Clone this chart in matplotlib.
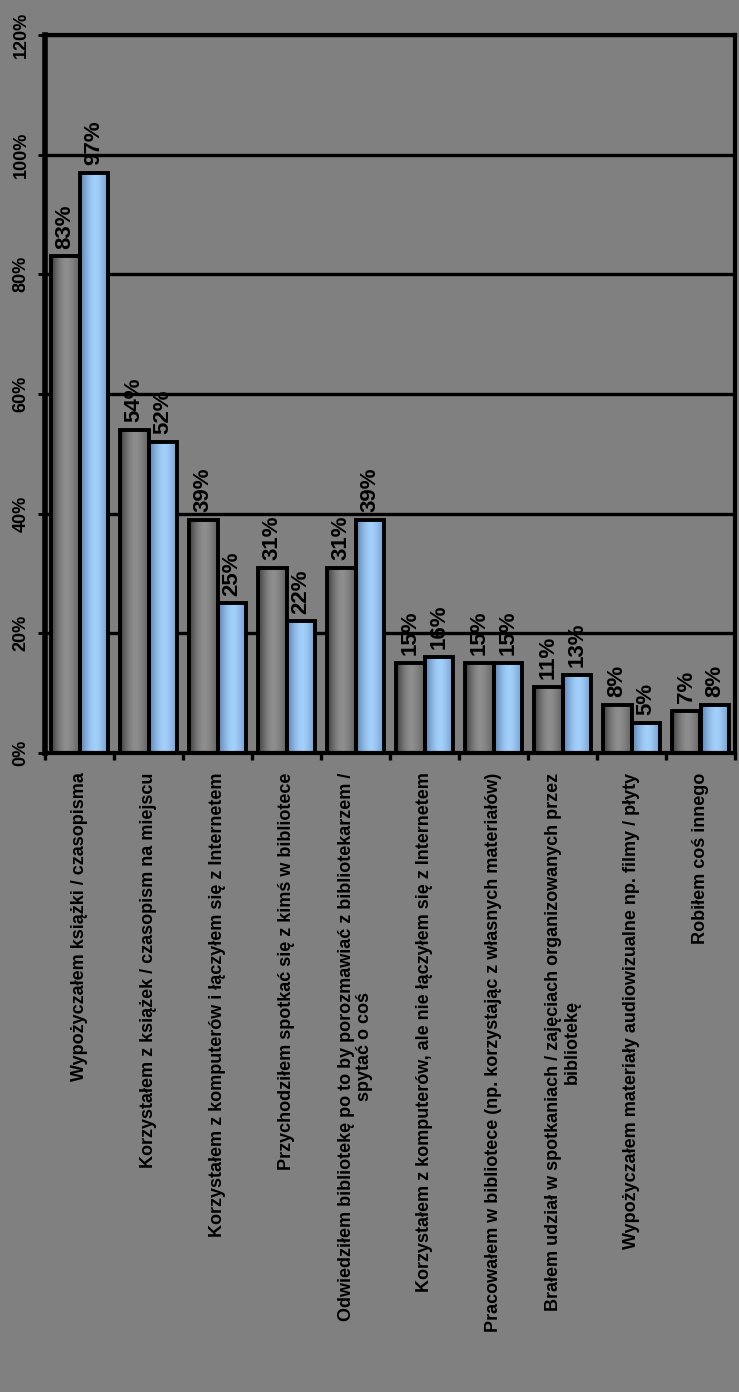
import numpy as np
import matplotlib as mpl
mpl.use('Agg')
import matplotlib.pyplot as plt
from matplotlib.ticker import FixedLocator

plt.rcParams['font.family'] = ['Liberation Sans', 'DejaVu Sans']

kategorie = [
    "Wypożyczałem książki / czasopisma",
    "Korzystałem z książek / czasopism na miejscu",
    "Korzystałem z komputerów i łączyłem się z Internetem",
    "Przychodziłem spotkać się z kimś w bibliotece",
    "Odwiedziłem bibliotekę po to by porozmawiać z bibliotekarzem /\nspytać o coś",
    "Korzystałem z komputerów, ale nie łączyłem się z Internetem",
    "Pracowałem w bibliotece (np. korzystając z własnych materiałów)",
    "Brałem udział w spotkaniach / zajęciach organizowanych przez\nbibliotekę",
    "Wypożyczałem materiały audiowizualne np. filmy / płyty",
    "Robiłem coś innego",
]
seria_szara = [83, 54, 39, 31, 31, 15, 15, 11, 8, 7]
seria_niebieska = [97, 52, 25, 22, 39, 16, 15, 13, 5, 8]
y_ticks = [0, 20, 40, 60, 80, 100, 120]


def gradient(ciemny, jasny, prawy):
    t = np.linspace(0, 1, 64)
    c1 = np.array(mpl.colors.to_rgb(ciemny))
    c2 = np.array(mpl.colors.to_rgb(jasny))
    c3 = np.array(mpl.colors.to_rgb(prawy))
    out = []
    for v in t:
        if v < 0.55:
            s = np.sin(v / 0.55 * np.pi / 2)
            out.append(c1 + (c2 - c1) * s)
        else:
            s = (v - 0.55) / 0.45
            out.append(c2 + (c3 - c2) * s ** 1.5)
    return np.array(out)[None, :, :]


def rysuj_slupki(ax, x, wartosci, w, grad):
    bars = ax.bar(x, wartosci, w, color='none', edgecolor='none', zorder=2)
    for b in bars:
        x0 = b.get_x()
        im = ax.imshow(grad, extent=(x0, x0 + b.get_width(), 0, b.get_height()),
                       aspect='auto', zorder=2.5, interpolation='bilinear')
        im.set_clip_path(b)
    ax.bar(x, wartosci, w, fill=False, edgecolor='black', linewidth=2.8, zorder=3)
    for b, v in zip(bars, wartosci):
        ax.text(b.get_x() + b.get_width() / 2, v + 1.3, f"{v}%", rotation=90,
                ha='center', va='bottom', fontsize=16, fontweight='bold',
                color='black', zorder=4)


fig = plt.figure(figsize=(7.39, 13.92), dpi=100, facecolor='#808080')
ax = fig.add_axes([45 / 739, 1 - 753 / 1392, 690 / 739, 718 / 1392])
ax.set_facecolor('#808080')

x = np.arange(len(kategorie))
w = 0.42
rysuj_slupki(ax, x - w / 2, seria_szara, w, gradient('#3c3c3c', '#8e8e8e', '#5e5e5e'))
rysuj_slupki(ax, x + w / 2, seria_niebieska, w, gradient('#5a7fad', '#a3cffb', '#6d93c2'))

ax.set_xlim(-0.5, len(kategorie) - 0.5)
ax.set_ylim(0, 120)
ax.set_yticks(y_ticks)
ax.set_yticklabels([f"{t}%" for t in y_ticks], rotation=90, va='center',
                   fontsize=13, fontweight='bold')
ax.yaxis.grid(True, color='black', linewidth=2.4, zorder=1)
ax.set_axisbelow(True)
ax.tick_params(axis='y', length=5, width=2, color='black', pad=6)

ax.set_xticks(x)
ax.set_xticklabels(kategorie, rotation=90, ha='center', va='top',
                   fontsize=13, fontweight='bold', linespacing=1.15)
ax.tick_params(axis='x', which='major', length=0, pad=14)
ax.xaxis.set_minor_locator(FixedLocator(np.arange(len(kategorie) + 1) - 0.5))
ax.tick_params(axis='x', which='minor', length=5, width=2.4, color='black')

for s in ax.spines.values():
    s.set_color('black')
    s.set_linewidth(3)
ax.spines['left'].set_linewidth(4)

fig.savefig('out.png', dpi=100, facecolor=fig.get_facecolor())
